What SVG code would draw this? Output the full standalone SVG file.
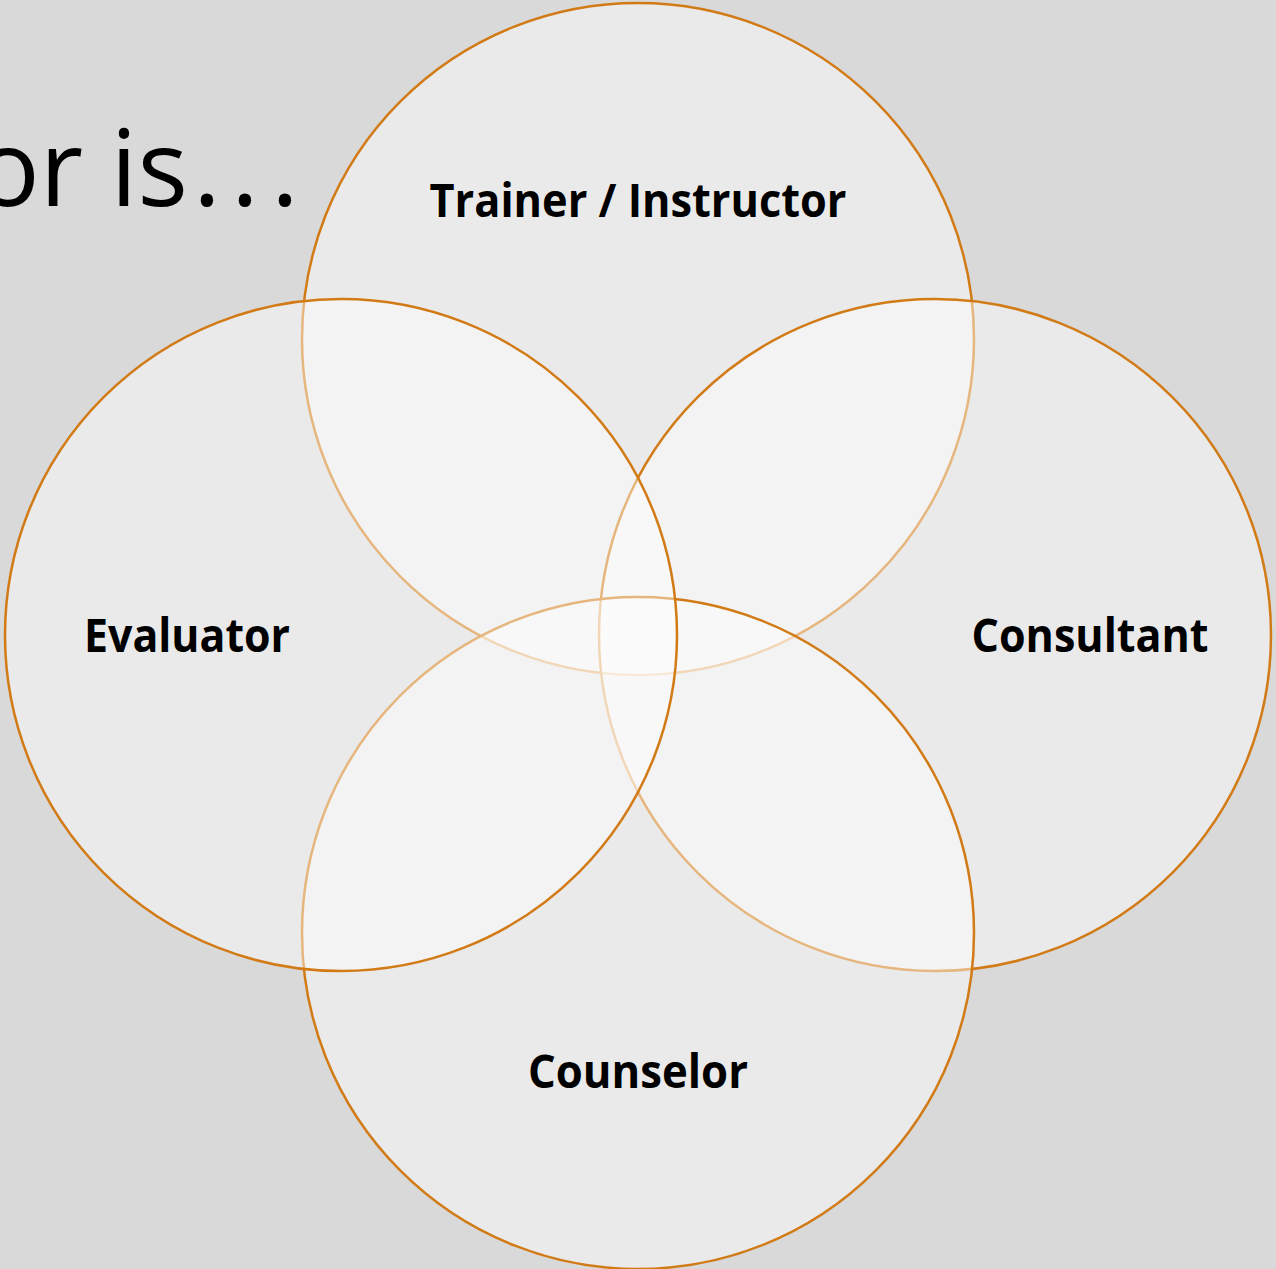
<svg xmlns="http://www.w3.org/2000/svg" width="1276" height="1269" viewBox="0 0 1276 1269">
<style>
.c{fill:#ffffff;fill-opacity:0.45;stroke:#D27B16;stroke-width:2.5}
.l{font-family:"Open Sans","Liberation Sans",sans-serif;font-weight:700;font-size:46px;fill:#000;text-anchor:middle}
.t{font-family:"Open Sans","Liberation Sans",sans-serif;font-size:106px;fill:#000}
</style>
<rect width="1276" height="1269" fill="#D9D9D9"/>
<text class="t" x="-24" y="206">or is<tspan x="193">.</tspan><tspan x="231">.</tspan><tspan x="271">.</tspan></text>
<g id="trainer"><circle class="c" cx="638" cy="339" r="336"/></g>
<g id="consultant"><circle class="c" cx="935" cy="635" r="336"/></g>
<g id="counselor"><circle class="c" cx="638" cy="933" r="336"/></g>
<g id="evaluator"><circle class="c" cx="341" cy="635" r="336"/></g>
<g id="labels">
<text class="l" x="638" y="217" textLength="417" lengthAdjust="spacingAndGlyphs">Trainer / Instructor</text>
<text class="l" x="187" y="652" textLength="206" lengthAdjust="spacingAndGlyphs">Evaluator</text>
<text class="l" x="1090" y="652" textLength="237" lengthAdjust="spacingAndGlyphs">Consultant</text>
<text class="l" x="638" y="1088" textLength="220" lengthAdjust="spacingAndGlyphs">Counselor</text>
</g>
<g id="connectors"/>
</svg>
